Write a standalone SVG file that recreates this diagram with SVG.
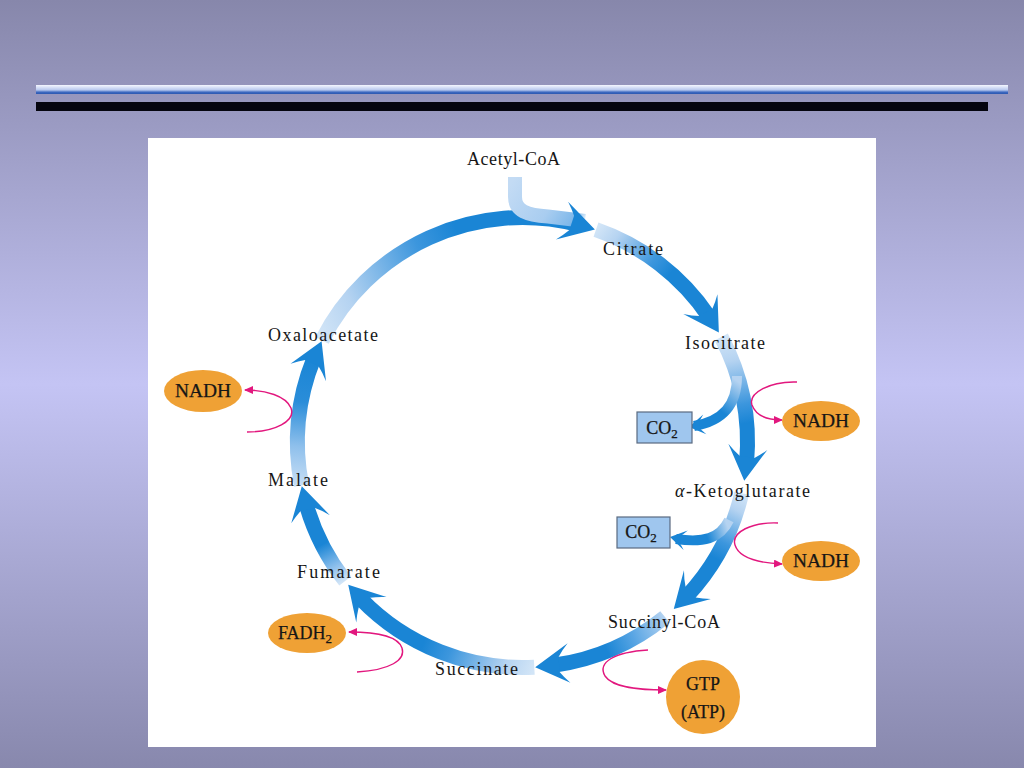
<svg xmlns="http://www.w3.org/2000/svg" xmlns:xlink="http://www.w3.org/1999/xlink" width="1024" height="768" viewBox="0 0 1024 768">
<defs>
<style>
.lbl{font-family:"Liberation Serif","Times New Roman",serif;font-size:18px;fill:#161616}
.ntx{font-family:"Liberation Serif","Times New Roman",serif;font-size:18px;fill:#161616;text-anchor:middle;stroke:#161616;stroke-width:0.25}
.arc{fill:none;stroke-width:15}
.br{fill:none;stroke-width:10}
.mg{fill:none;stroke:#e2177e;stroke-width:1.4}
.orange{fill:#efa135}
.box{fill:#9fc6ee;stroke:#5a6a80;stroke-width:1.2}
.dk{fill:#1a85d5}
</style>
<linearGradient id="bg" x1="0" y1="0" x2="0" y2="1">
<stop offset="0" stop-color="#8787ab"/>
<stop offset="0.5" stop-color="#c4c4f4"/>
<stop offset="1" stop-color="#8888ad"/>
</linearGradient>
<linearGradient id="bar" x1="0" y1="0" x2="0" y2="1">
<stop offset="0" stop-color="#f4f6ff"/>
<stop offset="0.55" stop-color="#b8c8ee"/>
<stop offset="0.8" stop-color="#3c68c0"/>
<stop offset="1" stop-color="#2c58b0"/>
</linearGradient>
<linearGradient id="g1" gradientUnits="userSpaceOnUse" x1="322" y1="340.3" x2="576.9" y2="224.2">
<stop offset="0" stop-color="#d2e5f7"/><stop offset="0.15" stop-color="#b5d3f1"/><stop offset="0.45" stop-color="#3c96dd"/><stop offset="0.6" stop-color="#1a85d5"/><stop offset="1" stop-color="#1a85d5"/>
</linearGradient>
<linearGradient id="g2" gradientUnits="userSpaceOnUse" x1="596" y1="229.7" x2="709" y2="316.7">
<stop offset="0" stop-color="#d2e5f7"/><stop offset="0.15" stop-color="#b5d3f1"/><stop offset="0.45" stop-color="#3c96dd"/><stop offset="0.6" stop-color="#1a85d5"/><stop offset="1" stop-color="#1a85d5"/>
</linearGradient>
<linearGradient id="g3" gradientUnits="userSpaceOnUse" x1="721.2" y1="336.9" x2="746.6" y2="462.1">
<stop offset="0" stop-color="#d2e5f7"/><stop offset="0.2" stop-color="#b5d3f1"/><stop offset="0.55" stop-color="#3c96dd"/><stop offset="0.7" stop-color="#1a85d5"/><stop offset="1" stop-color="#1a85d5"/>
</linearGradient>
<linearGradient id="g4" gradientUnits="userSpaceOnUse" x1="741.7" y1="493.1" x2="687.1" y2="596">
<stop offset="0" stop-color="#d2e5f7"/><stop offset="0.15" stop-color="#b5d3f1"/><stop offset="0.45" stop-color="#3c96dd"/><stop offset="0.6" stop-color="#1a85d5"/><stop offset="1" stop-color="#1a85d5"/>
</linearGradient>
<linearGradient id="g5" gradientUnits="userSpaceOnUse" x1="665" y1="617" x2="553.8" y2="665.3">
<stop offset="0" stop-color="#b5d3f1"/><stop offset="0.3" stop-color="#5aa6e4"/><stop offset="0.55" stop-color="#1a85d5"/><stop offset="1" stop-color="#1a85d5"/>
</linearGradient>
<linearGradient id="g6" gradientUnits="userSpaceOnUse" x1="534.3" y1="667.2" x2="360.7" y2="598.8">
<stop offset="0" stop-color="#d2e5f7"/><stop offset="0.15" stop-color="#b5d3f1"/><stop offset="0.45" stop-color="#3c96dd"/><stop offset="0.6" stop-color="#1a85d5"/><stop offset="1" stop-color="#1a85d5"/>
</linearGradient>
<linearGradient id="g7" gradientUnits="userSpaceOnUse" x1="345.2" y1="581" x2="306.2" y2="504.5">
<stop offset="0" stop-color="#d2e5f7"/><stop offset="0.2" stop-color="#8fc0ec"/><stop offset="0.5" stop-color="#1a85d5"/><stop offset="1" stop-color="#1a85d5"/>
</linearGradient>
<linearGradient id="g8" gradientUnits="userSpaceOnUse" x1="301.6" y1="485.4" x2="313.9" y2="358.2">
<stop offset="0" stop-color="#c6def5"/><stop offset="0.3" stop-color="#8fc0ec"/><stop offset="0.65" stop-color="#2a8dd9"/><stop offset="1" stop-color="#1a85d5"/>
</linearGradient>
<linearGradient id="ga" gradientUnits="userSpaceOnUse" x1="515" y1="177" x2="585" y2="224">
<stop offset="0" stop-color="#c3dbf4"/><stop offset="0.55" stop-color="#a9cdf0"/><stop offset="0.85" stop-color="#7fb8ea"/><stop offset="1" stop-color="#7fb8ea" stop-opacity="0"/>
</linearGradient>
<linearGradient id="gb1" gradientUnits="userSpaceOnUse" x1="736" y1="380" x2="702" y2="425">
<stop offset="0" stop-color="#b5d3f1"/><stop offset="0.6" stop-color="#1a85d5"/><stop offset="1" stop-color="#1a85d5"/>
</linearGradient>
<linearGradient id="gb2" gradientUnits="userSpaceOnUse" x1="727" y1="525" x2="684" y2="540">
<stop offset="0" stop-color="#b5d3f1"/><stop offset="0.5" stop-color="#1a85d5"/><stop offset="1" stop-color="#1a85d5"/>
</linearGradient>
<path id="ah" d="M3,0 L-31,-18 Q-25,-12 -21,-6.5 L-21,8.5 Q-25,15 -31,21.5 Z"/>
<path id="ahs" d="M0,0 L-16,-10 Q-13,-6 -11,-4 L-11,4 Q-13,6 -16,10 Z"/>
<marker id="mk" markerWidth="10" markerHeight="10" refX="8" refY="4" orient="auto" markerUnits="userSpaceOnUse">
<path d="M0,0 L9,4 L0,8 Z" fill="#e2177e"/>
</marker>
</defs>

<rect x="0" y="0" width="1024" height="768" fill="url(#bg)"/>
<rect x="36" y="85" width="972" height="9" fill="url(#bar)"/>
<rect x="36" y="102" width="952" height="9" fill="#05050f"/>
<rect x="148" y="138" width="728" height="609" fill="#ffffff"/>

<g id="connectors">
<path class="arc" stroke="url(#g1)" d="M322,340.3 A225,225 0 0 1 576.9,224.2"/>
<path fill="none" stroke="url(#ga)" stroke-width="14" d="M515,177 L515,197 C515,211 527,215 548,216.5 L585,221"/>
<path class="arc" stroke="url(#g2)" d="M596,229.7 A225,225 0 0 1 709,316.7"/>
<path class="arc" stroke="url(#g3)" d="M721.2,336.9 A225,225 0 0 1 746.6,462.1"/>
<path class="arc" stroke="url(#g4)" d="M741.7,493.1 A225,225 0 0 1 687.1,596"/>
<path class="arc" stroke="url(#g5)" d="M665,617 A225,225 0 0 1 553.8,665.3"/>
<path class="arc" stroke="url(#g6)" d="M534.3,667.2 A225,225 0 0 1 360.7,598.8"/>
<path class="arc" stroke="url(#g7)" d="M345.2,581 A225,225 0 0 1 306.2,504.5"/>
<path class="arc" stroke="url(#g8)" d="M301.6,485.4 A225,225 0 0 1 313.9,358.2"/>
<use href="#ah" class="dk" transform="rotate(18 522.5 442.5) translate(522.5 217.5)"/>
<use href="#ah" class="dk" transform="rotate(60 522.5 442.5) translate(522.5 217.5)"/>
<use href="#ah" class="dk" transform="rotate(99 522.5 442.5) translate(522.5 217.5)"/>
<use href="#ah" class="dk" transform="rotate(137 522.5 442.5) translate(522.5 217.5)"/>
<use href="#ah" class="dk" transform="rotate(176 522.5 442.5) translate(522.5 217.5)"/>
<use href="#ah" class="dk" transform="rotate(230 522.5 442.5) translate(522.5 217.5)"/>
<use href="#ah" class="dk" transform="rotate(258 522.5 442.5) translate(522.5 217.5)"/>
<use href="#ah" class="dk" transform="rotate(296 522.5 442.5) translate(522.5 217.5)"/>
<path class="br" stroke="url(#gb1)" d="M737,376 C737,405 723,421 694,426"/>
<use href="#ahs" class="dk" transform="translate(689 427) rotate(171)"/>
<path class="br" stroke="url(#gb2)" d="M729,520 C720,539 703,543 676,539"/>
<use href="#ahs" class="dk" transform="translate(670 537) rotate(192)"/>
<path class="mg" marker-end="url(#mk)" d="M797,382 C770,381 748,393 752,405 C756,416 768,420 782,420"/>
<path class="mg" marker-end="url(#mk)" d="M778,523 C752,522 731,532 735,545 C739,558 760,563 782,564"/>
<path class="mg" marker-end="url(#mk)" d="M247,432 C275,432 296,421 291,408 C286,396 266,390 245,390"/>
<path class="mg" marker-end="url(#mk)" d="M357,672 C390,670 406,660 402,648 C398,636 375,632 349,632"/>
<path class="mg" marker-end="url(#mk)" d="M648,650 C615,652 597,662 605,676 C613,688 640,690 666,690"/>
</g>

<g id="acetylcoa"><text class="lbl" x="467" y="165" textLength="93" lengthAdjust="spacing">Acetyl-CoA</text></g>
<g id="citrate"><text class="lbl" x="603" y="255" textLength="60" lengthAdjust="spacing">Citrate</text></g>
<g id="isocitrate"><text class="lbl" x="685" y="349" textLength="80" lengthAdjust="spacing">Isocitrate</text></g>
<g id="ketoglutarate"><text class="lbl" x="675" y="497" textLength="135" lengthAdjust="spacing"><tspan font-style="italic">α</tspan>-Ketoglutarate</text></g>
<g id="succinylcoa"><text class="lbl" x="608" y="628" textLength="112" lengthAdjust="spacing">Succinyl-CoA</text></g>
<g id="succinate"><text class="lbl" x="435" y="675" textLength="83" lengthAdjust="spacing">Succinate</text></g>
<g id="fumarate"><text class="lbl" x="297" y="578" textLength="83" lengthAdjust="spacing">Fumarate</text></g>
<g id="malate"><text class="lbl" x="268" y="486" textLength="60" lengthAdjust="spacing">Malate</text></g>
<g id="oxaloacetate"><text class="lbl" x="268" y="341" textLength="110" lengthAdjust="spacing">Oxaloacetate</text></g>

<g id="co2-1"><rect class="box" x="637" y="412" width="55" height="31"/><text class="ntx" x="662" y="434">CO<tspan font-size="13" dy="4">2</tspan></text></g>
<g id="co2-2"><rect class="box" x="617" y="517" width="53" height="31"/><text class="ntx" x="641" y="538">CO<tspan font-size="13" dy="4">2</tspan></text></g>
<g id="nadh-1"><ellipse class="orange" cx="821" cy="421" rx="39" ry="20"/><text class="ntx" x="821" y="427" textLength="56" lengthAdjust="spacingAndGlyphs">NADH</text></g>
<g id="nadh-2"><ellipse class="orange" cx="821" cy="561" rx="39" ry="20"/><text class="ntx" x="821" y="567" textLength="56" lengthAdjust="spacingAndGlyphs">NADH</text></g>
<g id="nadh-3"><ellipse class="orange" cx="203" cy="391" rx="39" ry="21"/><text class="ntx" x="203" y="397" textLength="56" lengthAdjust="spacingAndGlyphs">NADH</text></g>
<g id="fadh2"><ellipse class="orange" cx="307" cy="633" rx="39" ry="20"/><text class="ntx" x="305" y="639">FADH<tspan font-size="13" dy="4">2</tspan></text></g>
<g id="gtp"><circle class="orange" cx="703" cy="697" r="37"/><text class="ntx" x="703" y="690">GTP</text><text class="ntx" x="703" y="718">(ATP)</text></g>
</svg>
